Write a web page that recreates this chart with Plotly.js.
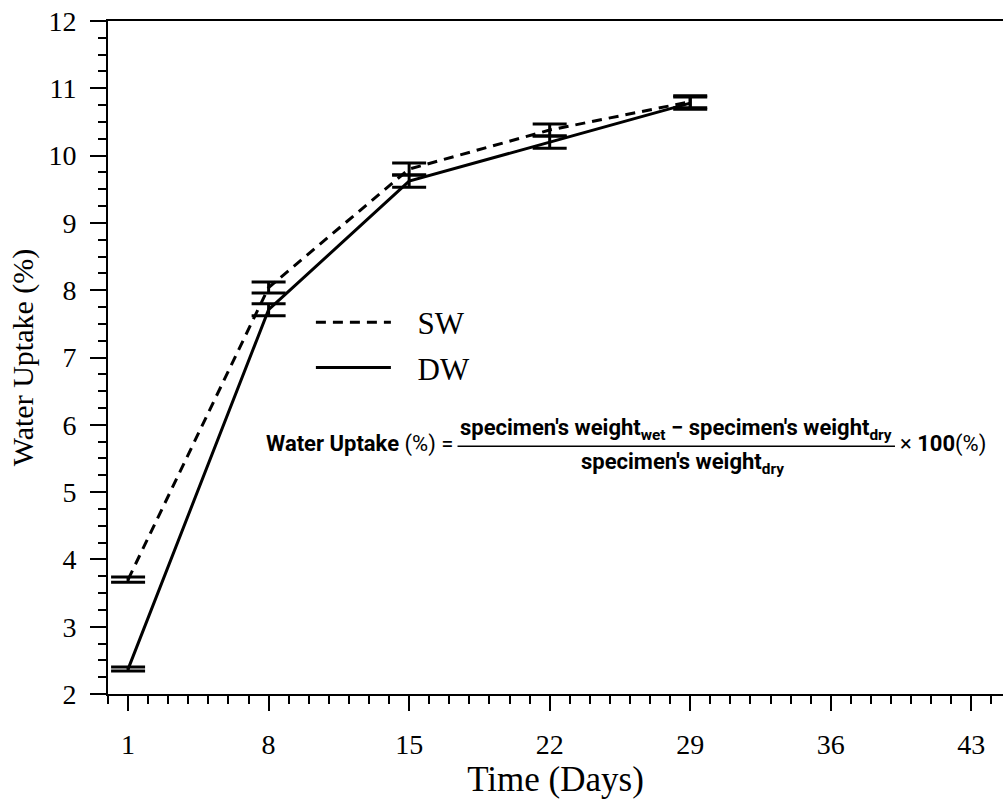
<!DOCTYPE html>
<html>
<head>
<meta charset="utf-8">
<script src="https://cdn.plot.ly/plotly-3.0.1.min.js"></script>
<style>html,body{margin:0;padding:0;background:#fff;}#chart{width:1003px;height:799px;}</style>
</head>
<body>
<div id="chart"></div>
<script>
// ---- data ----
const days = [1, 8, 15, 22, 29];
const swUptake = [3.70, 8.04, 9.80, 10.38, 10.80];
const swError  = [0.04, 0.08, 0.09, 0.09, 0.09];
const dwUptake = [2.37, 7.71, 9.62, 10.20, 10.78];
const dwError  = [0.03, 0.09, 0.09, 0.09, 0.09];
const seriesNames = ["SW", "DW"];
const xTickVals = [1, 8, 15, 22, 29, 36, 43];
const yTickVals = [2, 3, 4, 5, 6, 7, 8, 9, 10, 11, 12];

const serif = "Liberation Serif, Times New Roman, serif";
const formulaFont = "Roboto, Liberation Sans, sans-serif";
const legendPad = "\u2002\u2009";

const traces = [
  {
    x: days, y: swUptake, name: legendPad + seriesNames[0], type: "scatter", mode: "lines",
    legendgroup: "a",
    line: {color: "black", width: 3, dash: "10px,7px"},
    error_y: {type: "data", array: swError, visible: true, color: "black", thickness: 3, width: 17}
  },
  {
    x: days, y: dwUptake, name: legendPad + seriesNames[1], type: "scatter", mode: "lines",
    legendgroup: "b",
    line: {color: "black", width: 3},
    error_y: {type: "data", array: dwError, visible: true, color: "black", thickness: 3, width: 17}
  }
];

const layout = {
  width: 1003, height: 799,
  margin: {l: 108, r: 0, t: 21, b: 105},
  paper_bgcolor: "white", plot_bgcolor: "white",
  font: {family: serif, color: "black", size: 28},
  showlegend: true,
  legend: {
    x: 0.2267, y: 0.592, xanchor: "left", yanchor: "top",
    font: {family: serif, size: 31, color: "black"},
    bgcolor: "rgba(0,0,0,0)", itemwidth: 75, tracegroupgap: 2
  },
  xaxis: {
    range: [0, 44.58], tickvals: xTickVals, ticktext: xTickVals.map(String),
    ticks: "outside", ticklen: 15, tickwidth: 2, tickcolor: "black",
    showline: true, linewidth: 2, linecolor: "black", mirror: true,
    showgrid: false, zeroline: false,
    ticklabelstandoff: 9,
    tickfont: {family: serif, size: 28, color: "black"},
    minor: {dtick: 1, tick0: 0, ticks: "outside", ticklen: 8, tickwidth: 2, tickcolor: "black", showgrid: false},
    title: {text: "Time (Days)", font: {family: serif, size: 35, color: "black"}, standoff: 0}
  },
  yaxis: {
    range: [2, 12], tickvals: yTickVals, ticktext: yTickVals.map(String),
    ticks: "outside", ticklen: 16, tickwidth: 2, tickcolor: "black",
    showline: true, linewidth: 2, linecolor: "black", mirror: false,
    showgrid: false, zeroline: false,
    ticklabelstandoff: 8,
    tickfont: {family: serif, size: 28, color: "black"},
    minor: {dtick: 0.25, tick0: 0, ticks: "outside", ticklen: 8, tickwidth: 2, tickcolor: "black", showgrid: false},
    title: {text: "Water Uptake (%)", font: {family: serif, size: 30, color: "black"}, standoff: 6}
  },
  shapes: [
    {type: "line", xref: "x", yref: "y", x0: 17.41, x1: 39.2, y0: 5.68, y1: 5.68,
     line: {color: "black", width: 1.5}}
  ],
  annotations: [
    {xref: "x", yref: "y", x: 17.27, y: 5.72, xanchor: "right", yanchor: "middle", showarrow: false,
     text: "<b>Water Uptake</b> (%) =", font: {family: formulaFont, size: 22, color: "black"}},
    {xref: "x", yref: "y", x: 28.3, y: 5.93, xanchor: "center", yanchor: "middle", showarrow: false,
     text: "<b>specimen′s weight<sub>wet</sub> − specimen′s weight<sub>dry</sub></b>", font: {family: formulaFont, size: 22, color: "black"}},
    {xref: "x", yref: "y", x: 28.6, y: 5.42, xanchor: "center", yanchor: "middle", showarrow: false,
     text: "<b>specimen′s weight<sub>dry</sub></b>", font: {family: formulaFont, size: 22, color: "black"}},
    {xref: "x", yref: "y", x: 39.35, y: 5.72, xanchor: "left", yanchor: "middle", showarrow: false,
     text: "× <b>100</b>(%)", font: {family: formulaFont, size: 22, color: "black"}}
  ]
};

Plotly.newPlot("chart", traces, layout, {displayModeBar: false, staticPlot: true});
</script>
</body>
</html>
